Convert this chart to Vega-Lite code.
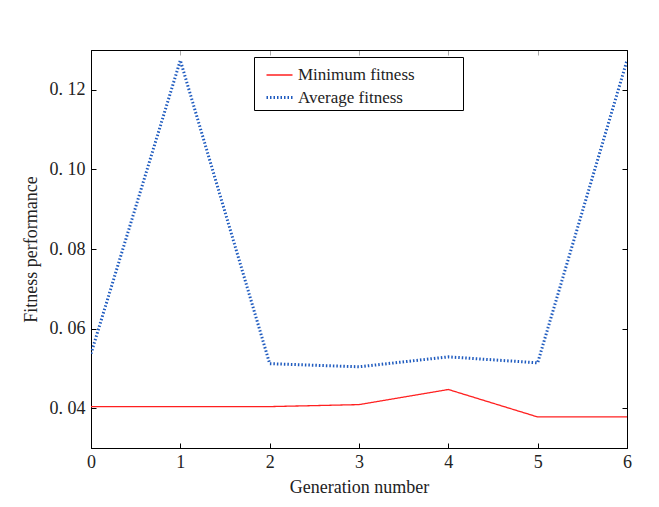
{
  "$schema": "https://vega.github.io/schema/vega-lite/v6.json",
  "width": 536,
  "height": 398,
  "autosize": "none",
  "padding": {"left": 91, "top": 50, "right": 32, "bottom": 59},
  "background": "white",
  "config": {
    "font": "Liberation Serif",
    "view": {"stroke": "black", "strokeWidth": 1},
    "axis": {"grid": false, "domainColor": "black", "tickColor": "black", "labelColor": "#222", "titleColor": "#222", "labelFont": "Liberation Serif", "titleFont": "Liberation Serif", "labelFontSize": 18, "titleFontSize": 18, "titleFontWeight": "normal", "tickSize": -5, "labelFlush": false}
  },
  "data": {"values": [
    {"gen": 0, "series": "Minimum fitness", "value": 0.0404},
    {"gen": 1, "series": "Minimum fitness", "value": 0.0404},
    {"gen": 2, "series": "Minimum fitness", "value": 0.0404},
    {"gen": 3, "series": "Minimum fitness", "value": 0.0409},
    {"gen": 4, "series": "Minimum fitness", "value": 0.0447},
    {"gen": 5, "series": "Minimum fitness", "value": 0.0378},
    {"gen": 6, "series": "Minimum fitness", "value": 0.0378},
    {"gen": 0, "series": "Average fitness", "value": 0.0537},
    {"gen": 1, "series": "Average fitness", "value": 0.1274},
    {"gen": 2, "series": "Average fitness", "value": 0.0512},
    {"gen": 3, "series": "Average fitness", "value": 0.0504},
    {"gen": 4, "series": "Average fitness", "value": 0.0529},
    {"gen": 5, "series": "Average fitness", "value": 0.0514},
    {"gen": 6, "series": "Average fitness", "value": 0.1274}
  ]},
  "layer": [
    {
      "mark": {"type": "line", "clip": true},
      "encoding": {
        "x": {"field": "gen", "type": "quantitative", "scale": {"domain": [0, 6], "nice": false},
          "axis": {"orient": "bottom", "values": [0,1,2,3,4,5,6], "format": "d", "title": "Generation number", "labelPadding": 10, "titlePadding": 7}},
        "y": {"field": "value", "type": "quantitative", "scale": {"domain": [0.03, 0.13], "nice": false, "zero": false},
          "axis": {"orient": "left", "values": [0.04,0.06,0.08,0.10,0.12], "labelExpr": "replace(format(datum.value, '.2f'), '.', '. ')", "title": "Fitness performance", "labelPadding": 11, "titlePadding": 9}},
        "color": {"field": "series", "type": "nominal", "scale": {"domain": ["Minimum fitness", "Average fitness"], "range": ["#ff2020", "#1f5bbf"]},
          "legend": {"title": "\u2003\u2003", "titleOrient": "right", "titleFontSize": 17, "titlePadding": 44, "orient": "none", "legendX": 163, "legendY": 7, "strokeColor": "black", "fillColor": "white", "padding": 4, "labelFontSize": 17, "labelFont": "Liberation Serif", "labelColor": "#222", "symbolType": "stroke", "symbolSize": 676, "symbolOffset": 7, "rowPadding": -1, "labelOffset": 4}},
        "strokeDash": {"field": "series", "type": "nominal", "scale": {"domain": ["Minimum fitness", "Average fitness"], "range": [[1, 0], [1.5, 2]]}},
        "strokeWidth": {"field": "series", "type": "nominal", "scale": {"domain": ["Minimum fitness", "Average fitness"], "range": [1.3, 3]}}
      }
    },
    {
      "mark": {"type": "line", "opacity": 0},
      "encoding": {
        "x": {"field": "gen", "type": "quantitative", "axis": {"orient": "top", "values": [1,2,3,4,5], "labels": false, "title": null, "tickColor": "#aaa"}},
        "y": {"field": "value", "type": "quantitative", "axis": {"orient": "right", "values": [0.04,0.06,0.08,0.10,0.12], "labels": false, "title": null}}
      }
    }
  ],
  "resolve": {"axis": {"x": "independent", "y": "independent"}}
}
